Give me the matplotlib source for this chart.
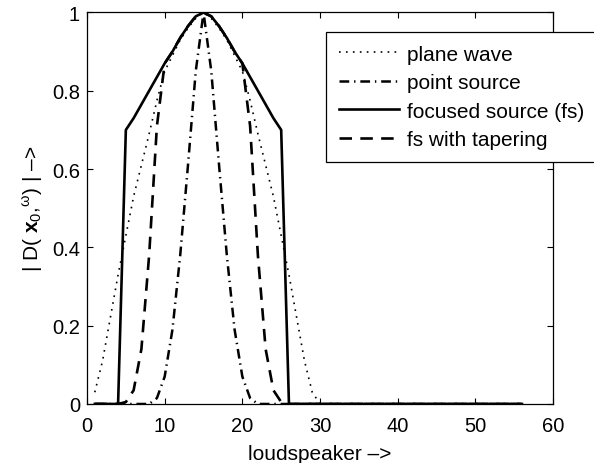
import numpy as np
import matplotlib
matplotlib.use('Agg')
import matplotlib.pyplot as plt

plt.rcParams['font.family'] = ['Liberation Sans', 'DejaVu Sans']
plt.rcParams['mathtext.fontset'] = 'custom'
plt.rcParams['mathtext.rm'] = 'Liberation Sans'
plt.rcParams['mathtext.it'] = 'Liberation Sans'
plt.rcParams['mathtext.bf'] = 'Liberation Sans:bold'
plt.rcParams['lines.scale_dashes'] = False

# loudspeaker index 1..56
loudspeaker = np.arange(1, 57)

plane_wave = [0.03, 0.11, 0.22, 0.33, 0.43, 0.53, 0.61, 0.69, 0.775, 0.85,
              0.89, 0.93, 0.96, 0.985, 1.0, 0.985, 0.96, 0.93, 0.89, 0.85,
              0.775, 0.69, 0.61, 0.53, 0.43, 0.33, 0.22, 0.11, 0.03, 0.0,
              0.0, 0.0, 0.0, 0.0, 0.0, 0.0, 0.0, 0.0, 0.0, 0.0,
              0.0, 0.0, 0.0, 0.0, 0.0, 0.0, 0.0, 0.0, 0.0, 0.0,
              0.0, 0.0, 0.0, 0.0, 0.0, 0.0]

point_source = [0.0, 0.0, 0.0, 0.0, 0.0, 0.0, 0.0, 0.0, 0.015, 0.07,
                0.19, 0.38, 0.61, 0.85, 1.0, 0.85, 0.61, 0.38, 0.19, 0.07,
                0.015, 0.0, 0.0, 0.0, 0.0, 0.0, 0.0, 0.0, 0.0, 0.0,
                0.0, 0.0, 0.0, 0.0, 0.0, 0.0, 0.0, 0.0, 0.0, 0.0,
                0.0, 0.0, 0.0, 0.0, 0.0, 0.0, 0.0, 0.0, 0.0, 0.0,
                0.0, 0.0, 0.0, 0.0, 0.0, 0.0]

focused_source = [0.0, 0.0, 0.0, 0.0, 0.70, 0.73, 0.765, 0.80, 0.835, 0.87,
                  0.90, 0.935, 0.965, 0.99, 1.0, 0.99, 0.965, 0.935, 0.90, 0.87,
                  0.835, 0.80, 0.765, 0.73, 0.70, 0.0, 0.0, 0.0, 0.0, 0.0,
                  0.0, 0.0, 0.0, 0.0, 0.0, 0.0, 0.0, 0.0, 0.0, 0.0,
                  0.0, 0.0, 0.0, 0.0, 0.0, 0.0, 0.0, 0.0, 0.0, 0.0,
                  0.0, 0.0, 0.0, 0.0, 0.0, 0.0]

fs_tapering = [0.0, 0.0, 0.0, 0.0, 0.005, 0.035, 0.14, 0.38, 0.71, 0.87,
               0.90, 0.935, 0.965, 0.99, 1.0, 0.99, 0.965, 0.935, 0.90, 0.87,
               0.71, 0.38, 0.14, 0.035, 0.005, 0.0, 0.0, 0.0, 0.0, 0.0,
               0.0, 0.0, 0.0, 0.0, 0.0, 0.0, 0.0, 0.0, 0.0, 0.0,
               0.0, 0.0, 0.0, 0.0, 0.0, 0.0, 0.0, 0.0, 0.0, 0.0,
               0.0, 0.0, 0.0, 0.0, 0.0, 0.0]

labels = ['plane wave', 'point source', 'focused source (fs)', 'fs with tapering']

fig = plt.figure(figsize=(5.94, 4.64), dpi=100)
ax = fig.add_axes([0.1465, 0.1272, 0.7845, 0.8438])

ax.plot(loudspeaker, plane_wave, color='black', linewidth=1.2,
        linestyle=(0, (1.2, 3.8)), label=labels[0])
ax.plot(loudspeaker, point_source, color='black', linewidth=1.8,
        linestyle=(0, (7.0, 3.5, 1.0, 3.5)), label=labels[1])
ax.plot(loudspeaker, focused_source, color='black', linewidth=1.9,
        linestyle='-', label=labels[2])
ax.plot(loudspeaker, fs_tapering, color='black', linewidth=1.9,
        linestyle=(0, (9.0, 6.0)), label=labels[3])

ax.set_xlim(0, 60)
ax.set_ylim(0, 1)
ax.set_xticks([0, 10, 20, 30, 40, 50, 60])
ax.set_yticks([0, 0.2, 0.4, 0.6, 0.8, 1])
ax.set_yticklabels(['0', '0.2', '0.4', '0.6', '0.8', '1'])
ax.tick_params(direction='in', top=True, right=True, labelsize=14.5,
               length=4, width=0.8)
ax.tick_params(axis='x', pad=9)
ax.tick_params(axis='y', pad=5)
for sp in ax.spines.values():
    sp.set_linewidth(0.9)

ax.set_xlabel('loudspeaker \u2013>', fontsize=15, labelpad=6)
ax.set_ylabel('| D( $\\mathbf{x}_0$,$^{\\omega}$) | \u2013>', fontsize=15, labelpad=5)

leg = ax.legend(loc='upper left', bbox_to_anchor=(0.513, 0.950),
                borderaxespad=0, fontsize=15, handlelength=2.9,
                handletextpad=0.4, labelspacing=0.46, borderpad=0.6,
                fancybox=False, framealpha=1, edgecolor='black')
leg.get_frame().set_linewidth(0.9)

fig.savefig('out.png', dpi=100)
